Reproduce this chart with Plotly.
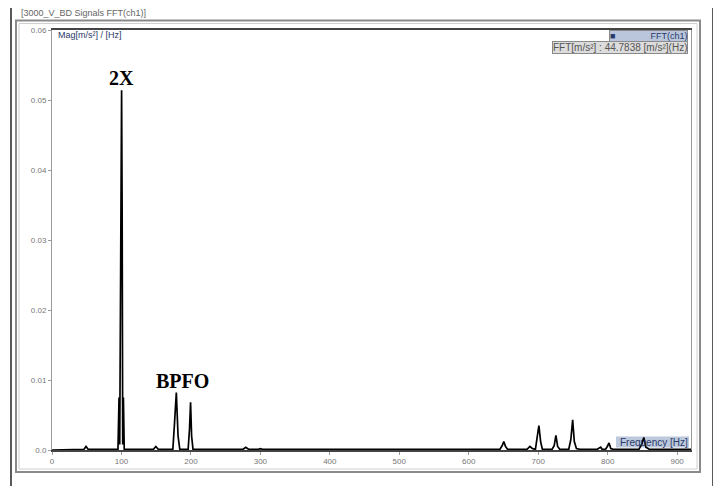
import plotly.graph_objects as go

# ---- data ----
freq_hz = [0, 46, 49, 52, 95, 96.5, 97.5, 98.5, 99.3, 100.2, 101.0, 101.8, 102.8, 104, 146, 149.5, 153,
           174, 176.5, 179, 181.5, 184, 196, 198, 199.5, 201, 203,
           275, 279, 283, 297, 300, 303, 395, 398, 401, 448, 451, 454,
           496, 499, 502, 508, 511, 514, 547, 550, 553, 595, 598, 601,
           645, 648, 650.5, 653, 656, 684, 688, 692, 696, 698.5, 701, 703.5, 706,
           720, 723, 725.5, 728, 731, 744, 747, 749.6, 752, 755, 760,
           785, 788, 790, 792, 797, 799.5, 802, 804.5, 808, 845, 849, 852, 855, 860, 920]
mag = [0, 0.0001, 0.0005, 0.0001, 0.0001, 0.0075, 0.0008, 0.021, 0.034, 0.0514, 0.034, 0.0008, 0.0075, 0.0001,
       0.0001, 0.0005, 0.0001,
       0.0001, 0.004, 0.0082, 0.002, 0.0001, 0.0001, 0.003, 0.0068, 0.002, 0.0001,
       0.0001, 0.0004, 0.0001, 0.0001, 0.0002, 0.0001, 0.0001, 0.0002, 0.0001, 0.0001, 0.0002, 0.0001,
       0.0001, 0.0002, 0.0001, 0.0001, 0.0002, 0.0001, 0.0001, 0.0002, 0.0001, 0.0001, 0.0002, 0.0001,
       0.0001, 0.0006, 0.0012, 0.0005, 0.0001, 0.0001, 0.0005, 0.0002, 0.0001, 0.0018, 0.0035, 0.0012, 0.0001,
       0.0001, 0.0006, 0.0021, 0.0005, 0.0001, 0.0001, 0.0015, 0.0043, 0.0012, 0.0002, 0.0001,
       0.0001, 0.0003, 0.0004, 0.0001, 0.0001, 0.0005, 0.0010, 0.0002, 0.0001, 0.0001, 0.0008, 0.0018, 0.0004, 0.0001, 0.0001]

x_ticks = [0, 100, 200, 300, 400, 500, 600, 700, 800, 900]
x_tick_text = ["0", "100", "200", "300", "400", "500", "600", "700", "800", "900"]
y_ticks = [0.0, 0.01, 0.02, 0.03, 0.04, 0.05, 0.06]
y_tick_text = ["0.0", "0.01", "0.02", "0.03", "0.04", "0.05", "0.06"]

peak_labels = ["2X", "BPFO"]
peak_label_x = [99.5, 188.5]
peak_label_y = [0.0519, 0.0086]

# the page body adds an 8 px margin, so target screen pixels are shifted by OFF
OFF = 8
W, H = 721, 486
L, T = 52 - OFF, 30 - OFF
R = W - (691 - OFF)
B = H - (450 - OFF)
pw, ph = W - L - R, H - T - B


def px(x):
    return (x - OFF - L) / pw


def py(y):
    return (H - B - (y - OFF)) / ph


fig = go.Figure()
fig.add_trace(go.Scatter(x=freq_hz, y=mag, mode="lines", name="FFT(ch1)",
                         line=dict(color="black", width=1.7), showlegend=False,
                         hoverinfo="x+y"))

for t, xx, yy in zip(peak_labels, peak_label_x, peak_label_y):
    fig.add_annotation(x=xx, y=yy, text="<b>" + t + "</b>", showarrow=False,
                       font=dict(family="Liberation Serif", size=20, color="black"),
                       yanchor="bottom", yshift=-4)

small = dict(family="Liberation Sans", size=8, color="#777777")

fig.update_layout(
    width=W, height=H, margin=dict(l=L, r=R, t=T, b=B),
    paper_bgcolor="white", plot_bgcolor="white",
    xaxis=dict(range=[0, 920], tickvals=x_ticks, ticktext=x_tick_text,
               showgrid=False, zeroline=False, showline=True, linecolor="#444444",
               linewidth=1.5, mirror=True, ticks="outside", ticklen=3, tickcolor="#999999",
               tickfont=small),
    yaxis=dict(range=[0, 0.06], tickvals=y_ticks, ticktext=y_tick_text,
               showgrid=False, zeroline=False, showline=True, linecolor="#999999",
               linewidth=1, mirror=True, ticks="outside", ticklen=3, tickcolor="#999999",
               tickfont=small),
    showlegend=False,
)

shapes = [
    # outer black lines
    dict(type="line", xref="paper", yref="paper", x0=px(11), x1=px(11), y0=py(0), y1=py(494),
         line=dict(color="#222222", width=1.5)),
    dict(type="line", xref="paper", yref="paper", x0=px(713), x1=px(713), y0=py(0), y1=py(494),
         line=dict(color="#222222", width=1.5)),
    # gray panel frame (double)
    dict(type="rect", xref="paper", yref="paper", x0=px(16), x1=px(700), y0=py(20.5), y1=py(472),
         line=dict(color="#8a8a8a", width=2)),
    dict(type="rect", xref="paper", yref="paper", x0=px(19), x1=px(697), y0=py(23.5), y1=py(469),
         line=dict(color="#d0d0d0", width=1)),
    # background of the frequency caption, drawn below the spectrum
    dict(type="rect", xref="paper", yref="paper", x0=px(616), x1=px(689), y0=py(436.5), y1=py(447.5),
         line=dict(width=0), fillcolor="#bcc8dc", layer="below"),
]
fig.update_layout(shapes=shapes)

# title of the panel
fig.add_annotation(xref="paper", yref="paper", x=px(19), y=py(6), text="[3000_V_BD Signals FFT(ch1)]",
                   showarrow=False, xanchor="left", yanchor="top",
                   font=dict(family="Liberation Sans", size=9, color="#666666"))
# axis caption top-left
fig.add_annotation(xref="paper", yref="paper", x=px(56), y=py(35), text="Mag[m/s²] / [Hz]",
                   showarrow=False, xanchor="left", yanchor="middle",
                   font=dict(family="Liberation Sans", size=9, color="#2a3a6a"))
# legend boxes
fig.add_annotation(xref="paper", yref="paper", x=px(688), y=py(36),
                   text="■" + "&nbsp;" * 14 + "FFT(ch1)",
                   showarrow=False, xanchor="right", yanchor="middle", bgcolor="#b9c6dc",
                   bordercolor="#8a8a8a", borderwidth=1, borderpad=0,
                   font=dict(family="Liberation Sans", size=9, color="#2a3a6a"))
fig.add_annotation(xref="paper", yref="paper", x=px(688), y=py(47.5), text="FFT[m/s²] : 44.7838 [m/s²](Hz)",
                   showarrow=False, xanchor="right", yanchor="middle", bgcolor="#dcdcdc",
                   bordercolor="#8a8a8a", borderwidth=1, borderpad=0,
                   font=dict(family="Liberation Sans", size=10, color="#555555"))
# frequency caption bottom-right
fig.add_annotation(xref="paper", yref="paper", x=px(689), y=py(442), text="Frequency [Hz]",
                   showarrow=False, xanchor="right", yanchor="middle",
                   borderpad=0,
                   font=dict(family="Liberation Sans", size=10, color="#2a3a6a"))

fig.write_html("out.html")
